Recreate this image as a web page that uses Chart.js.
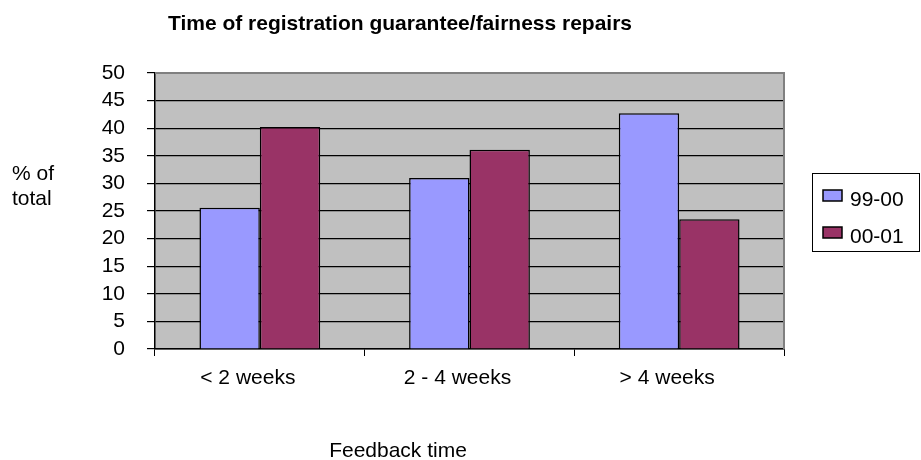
<!DOCTYPE html>
<html>
<head>
<meta charset="utf-8">
<script src="https://cdn.jsdelivr.net/npm/chart.js@4/dist/chart.umd.min.js"></script>
<style>
  html, body { margin: 0; padding: 0; background: #fff; }
  #wrap { width: 921px; height: 460px; }
</style>
</head>
<body>
<div id="wrap"><canvas id="mychart" width="921" height="460"></canvas></div>
<script>
// Dữ liệu
const categories = ["< 2 weeks", "2 - 4 weeks", "> 4 weeks"];
const seriesNames = ["99-00", "00-01"];
const values9900 = [25.6, 31.0, 42.7];
const values0001 = [40.2, 36.1, 23.5];
const yTicks = [0, 5, 10, 15, 20, 25, 30, 35, 40, 45, 50];

const chartTitle = "Time of registration guarantee/fairness repairs";
const yTitle = ["% of", "total"];
const xTitle = "Feedback time";

const FONT = "'Liberation Sans', Arial, sans-serif";
const colors = ["#9999FF", "#993366"];

// Nền xám + viền khung + tiêu đề + chú thích
const decor = {
  id: "decor",
  beforeDraw(chart) {
    const { ctx, chartArea: a } = chart;
    ctx.save();
    ctx.fillStyle = "#C0C0C0";
    ctx.fillRect(a.left, a.top, a.right - a.left, a.bottom - a.top);
    ctx.restore();
  },
  afterDraw(chart) {
    const { ctx, chartArea: a } = chart;
    ctx.save();
    // viền trên và phải màu xám
    ctx.strokeStyle = "#808080";
    ctx.lineWidth = 2;
    ctx.beginPath();
    ctx.moveTo(a.left, a.top);
    ctx.lineTo(a.right, a.top);
    ctx.lineTo(a.right, a.bottom);
    ctx.stroke();

    // tiêu đề
    ctx.fillStyle = "#000";
    ctx.textBaseline = "alphabetic";
    ctx.textAlign = "center";
    ctx.font = "bold 21px " + FONT;
    ctx.fillText(chartTitle, 400, 30);

    // tiêu đề trục x
    ctx.font = "21px " + FONT;
    ctx.fillText(xTitle, 398, 457);

    // nhãn trục y
    ctx.textAlign = "left";
    ctx.fillText(yTitle[0], 12, 180);
    ctx.fillText(yTitle[1], 12, 205);

    // chú thích
    ctx.strokeStyle = "#000";
    ctx.lineWidth = 1;
    ctx.strokeRect(812.5, 173.5, 107, 78);
    ctx.textBaseline = "middle";
    seriesNames.forEach((name, i) => {
      const y = 200 + i * 37;
      ctx.fillStyle = colors[i];
      ctx.fillRect(823, y - 10, 19, 11);
      ctx.lineWidth = 1.5;
      ctx.strokeRect(823, y - 10, 19, 11);
      ctx.fillStyle = "#000";
      ctx.fillText(name, 850, y);
    });
    ctx.restore();
  },
};

const ctx = document.getElementById("mychart").getContext("2d");
const mychart = new Chart(ctx, {
  type: "bar",
  data: {
    labels: categories,
    datasets: [
      {
        label: seriesNames[0],
        data: values9900,
        backgroundColor: colors[0],
        borderColor: "#000",
        borderWidth: 1.5,
      },
      {
        label: seriesNames[1],
        data: values0001,
        backgroundColor: colors[1],
        borderColor: "#000",
        borderWidth: 1.5,
      },
    ],
  },
  options: {
    responsive: false,
    animation: false,
    layout: { padding: { top: 73, right: 137, left: 0, bottom: 0 } },
    plugins: {
      legend: { display: false },
      title: { display: false },
      tooltip: { enabled: false },
    },
    datasets: {
      bar: { categoryPercentage: 0.576, barPercentage: 1.0 },
    },
    scales: {
      x: {
        grid: {
          offset: true,
          drawOnChartArea: false,
          drawTicks: true,
          tickLength: 7,
          color: "#000",
        },
        border: { color: "#000", width: 1.5 },
        ticks: {
          color: "#000",
          font: { family: FONT, size: 21 },
          padding: 10,
          labelOffset: -12,
          autoSkip: false,
          maxRotation: 0,
        },
        afterFit(scale) {
          scale.height = 111;
        },
      },
      y: {
        min: 0,
        max: 50,
        afterBuildTicks(scale) {
          scale.ticks = yTicks.map((v) => ({ value: v }));
        },
        grid: {
          color: "#000",
          lineWidth: 1.2,
          drawTicks: true,
          tickLength: 8,
        },
        border: { color: "#000", width: 1.5 },
        ticks: {
          color: "#000",
          font: { family: FONT, size: 21 },
          padding: 22,
          autoSkip: false,
        },
        afterFit(scale) {
          scale.width = 155;
        },
      },
    },
  },
  plugins: [decor],
});
</script>
</body>
</html>
